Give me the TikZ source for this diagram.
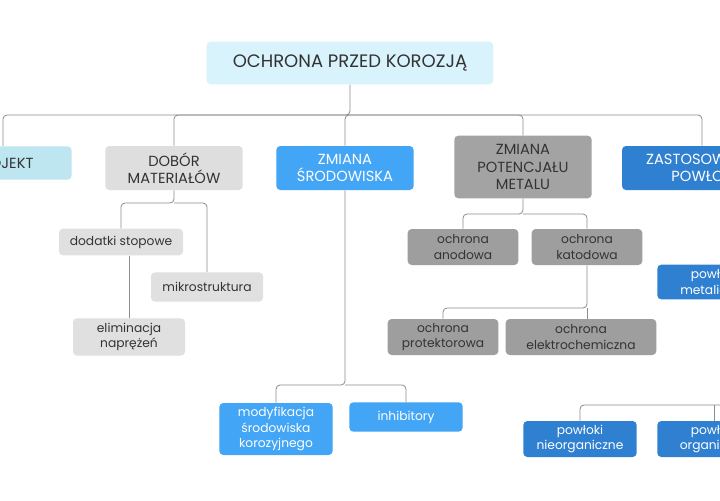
\documentclass[tikz,border=0pt]{standalone}
\usepackage{fontspec}
\setmainfont{Poppins}
\begin{document}
\begin{tikzpicture}[x=0.75pt,y=-0.75pt,
  box/.style={rounded corners=3pt,inner sep=0pt,align=center},
  leaf/.style={box,font=\fontsize{9.2}{11.5}\selectfont,text=black!80},
  lvl/.style={box,font=\fontsize{11}{13}\selectfont},
  conn/.style={draw=black!45,line width=0.6pt,rounded corners=3pt}]
\useasboundingbox (0,0) rectangle (720,500);
\clip (0,0) rectangle (720,500);
\fill[white] (0,0) rectangle (720,500);
% nodes
\node[box,fill=cyan!15,font=\fontsize{13.5}{15}\selectfont,text=black!80,minimum width=215pt,minimum height=32pt] (root) at (350,63) {OCHRONA PRZED KOROZJĄ};
\node[lvl,fill={rgb,255:red,190;green,230;blue,240},text=black!80,minimum width=103pt,minimum height=25pt] (proj) at (3,163) {PROJEKT};
\node[lvl,fill={rgb,255:red,222;green,222;blue,222},text=black!80,minimum width=103pt,minimum height=33pt] (dob) at (174,168) {DOBÓR\\MATERIAŁÓW};
\node[lvl,fill={rgb,255:red,66;green,165;blue,245},text=white,minimum width=103pt,minimum height=33pt] (srod) at (345,168) {ZMIANA\\ŚRODOWISKA};
\node[lvl,fill={rgb,255:red,163;green,163;blue,163},text=black!80,minimum width=103pt,minimum height=47pt] (pot) at (523,167) {ZMIANA\\POTENCJAŁU\\METALU};
\node[lvl,fill={rgb,255:red,47;green,128;blue,208},text=white,minimum width=120pt,minimum height=33pt] (pow) at (702,168) {ZASTOSOWANIE\\POWŁOK};
% DOBÓR children
\node[leaf,fill={rgb,255:red,224;green,224;blue,224},minimum width=93pt,minimum height=20pt] (dod) at (121,242) {dodatki stopowe};
\node[leaf,fill={rgb,255:red,224;green,224;blue,224},minimum width=84pt,minimum height=22pt] (mik) at (207,287) {mikrostruktura};
\node[leaf,fill={rgb,255:red,224;green,224;blue,224},minimum width=84pt,minimum height=28pt] (eli) at (129,337) {eliminacja\\naprężeń};
% potential children
\node[leaf,fill={rgb,255:red,158;green,158;blue,158},minimum width=83pt,minimum height=27pt] (ano) at (463,247) {ochrona\\anodowa};
\node[leaf,fill={rgb,255:red,158;green,158;blue,158},minimum width=83pt,minimum height=27pt] (kat) at (587,247) {ochrona\\katodowa};
\node[leaf,fill={rgb,255:red,158;green,158;blue,158},minimum width=83pt,minimum height=27pt] (prot) at (443,337) {ochrona\\protektorowa};
\node[leaf,fill={rgb,255:red,158;green,158;blue,158},minimum width=113pt,minimum height=27pt] (elek) at (581,337) {ochrona\\elektrochemiczna};
% środowisko children
\node[leaf,fill={rgb,255:red,66;green,165;blue,245},text=white,minimum width=85pt,minimum height=39pt] (mod) at (276,429) {modyfikacja\\środowiska\\korozyjnego};
\node[leaf,fill={rgb,255:red,66;green,165;blue,245},text=white,minimum width=85pt,minimum height=22pt] (inh) at (406,417) {inhibitory};
% powłoki children
\node[leaf,fill={rgb,255:red,47;green,128;blue,208},text=white,minimum width=85pt,minimum height=26pt] (met) at (714,282) {powłoki\\metaliczne};
\node[leaf,fill={rgb,255:red,47;green,128;blue,208},text=white,minimum width=85pt,minimum height=27pt] (nie) at (580,439) {powłoki\\nieorganiczne};
\node[leaf,fill={rgb,255:red,47;green,128;blue,208},text=white,minimum width=85pt,minimum height=27pt] (org) at (714,439) {powłoki\\organiczne};
\coordinate (rgt) at (740,405);
% connectors
\draw[conn] (root.south) -- (350,115) -| (proj.north);
\draw[conn] (350,115) -| (dob.north);
\draw[conn] (350,115) -| (srod.north);
\draw[conn] (350,115) -| (pot.north);
\draw[conn] (350,115) -| (pow.north);
\draw[conn] (dob.south) -- (174,203) -| (dod.north);
\draw[conn] (174,203) -| (mik.north);
\draw[conn] (dod.south -| eli.north) -- (eli.north);
\draw[conn] (pot.south) -- (523,214) -| (ano.north);
\draw[conn] (523,214) -| (kat.north);
\draw[conn] (kat.south) -- (587,308) -| (prot.north);
\draw[conn] (587,308) -- (elek.north -| kat.south);
\draw[conn] (srod.south) -- (345,385) -| (mod.north);
\draw[conn] (345,385) -| (inh.north);
\draw[conn] (rgt) -| (nie.north);
\draw[conn] (714,405) -- (org.north);
\end{tikzpicture}
\end{document}
